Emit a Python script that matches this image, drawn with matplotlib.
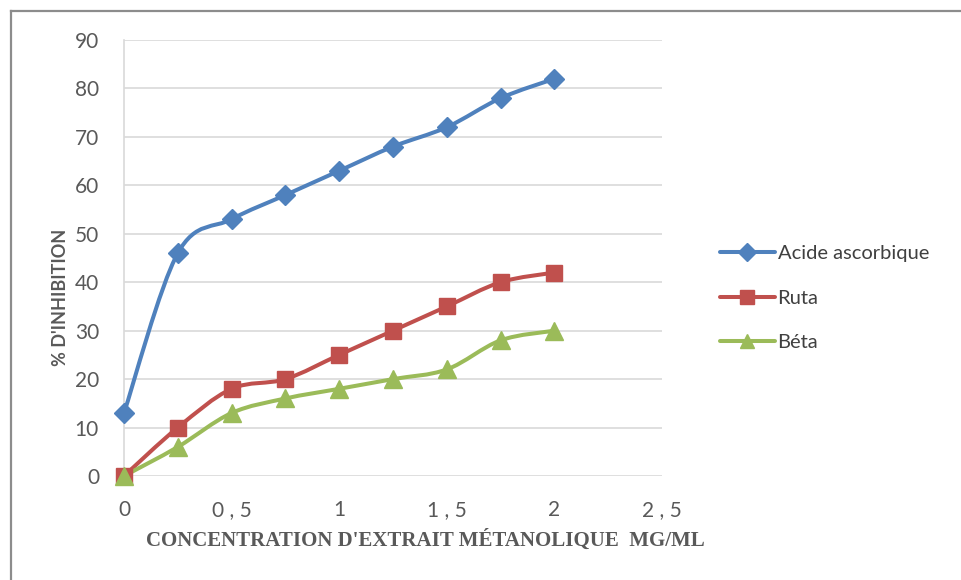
import numpy as np
import matplotlib
matplotlib.use("Agg")
import matplotlib.pyplot as plt
from matplotlib.path import Path
from matplotlib.patches import PathPatch
from matplotlib.lines import Line2D

# concentrations (mg/ml) and % inhibition
conc = [0, 0.25, 0.5, 0.75, 1, 1.25, 1.5, 1.75, 2]
acide = [13, 46, 53, 58, 63, 68, 72, 78, 82]
ruta = [0, 10, 18, 20, 25, 30, 35, 40, 42]
beta = [0, 6, 13, 16, 18, 20, 22, 28, 30]

x_ticks = [0, 0.5, 1, 1.5, 2, 2.5]
x_ticklabels = ["0", "0 , 5", "1", "1 , 5", "2", "2 , 5"]
y_ticks = [0, 10, 20, 30, 40, 50, 60, 70, 80, 90]

series = [
    ("Acide ascorbique", acide, "#4F81BD", "D", 10.5),
    ("Ruta", ruta, "#C0504D", "s", 11.5),
    ("Béta", beta, "#9BBB59", "^", 12.5),
]


def smooth_path(xs, ys):
    # cardinal (Catmull-Rom) bezier through the points, like a smoothed line
    pts = np.column_stack([xs, ys]).astype(float)
    n = len(pts)
    verts = [pts[0]]
    codes = [Path.MOVETO]
    for i in range(n - 1):
        p0 = pts[max(i - 1, 0)]
        p1 = pts[i]
        p2 = pts[i + 1]
        p3 = pts[min(i + 2, n - 1)]
        c1 = p1 + (p2 - p0) / 6.0
        c2 = p2 - (p3 - p1) / 6.0
        verts += [c1, c2, p2]
        codes += [Path.CURVE4] * 3
    return Path(verts, codes)


fig = plt.figure(figsize=(9.61, 5.80), dpi=100)
ax = fig.add_axes([124 / 961, 1 - 476 / 580, 538 / 961, 436 / 580])

ax.set_xlim(0, 2.5)
ax.set_ylim(0, 90)
ax.set_yticks(y_ticks)
ax.set_xticks(x_ticks)
ax.set_xticklabels(x_ticklabels)
ax.tick_params(length=0, labelsize=15, labelcolor="#595959")
ax.tick_params(axis="y", pad=18)
ax.tick_params(axis="x", pad=17)
for lab in ax.get_xticklabels() + ax.get_yticklabels():
    lab.set_family("Lato")

ax.yaxis.grid(True, color="#D9D9D9", linewidth=1.2)
ax.set_axisbelow(True)
for s in ["top", "right", "bottom"]:
    ax.spines[s].set_visible(False)
ax.spines["left"].set_color("#D9D9D9")
ax.spines["left"].set_linewidth(1.2)

handles = []
for name, vals, col, mk, ms in series:
    patch = PathPatch(smooth_path(conc, vals), facecolor="none", edgecolor=col,
                      linewidth=2.9, capstyle="round", joinstyle="round",
                      clip_on=False, zorder=3)
    ax.add_patch(patch)
    ax.plot(conc, vals, linestyle="none", marker=mk, markersize=ms,
            color=col, clip_on=False, zorder=4)
    handles.append(Line2D([], [], color=col, linewidth=2.9, marker=mk,
                          markersize=ms * 0.85, solid_capstyle="round",
                          label=name))

leg = fig.legend(handles=handles, loc="center left",
                 bbox_to_anchor=(702 / 961, 1 - 298 / 580), frameon=False,
                 prop={"family": "Lato", "size": 14.5}, handlelength=2.7,
                 handletextpad=0.15, labelspacing=1.35)
for t in leg.get_texts():
    t.set_color("#404040")

fig.text(425 / 961, 1 - 540 / 580,
         "CONCENTRATION D'EXTRAIT MÉTANOLIQUE  MG/ML",
         ha="center", va="center", fontsize=15, fontweight="bold",
         family="Liberation Serif", color="#595959")
fig.text(60 / 961, 1 - 297 / 580, "% D'INHIBITION", rotation=90,
         ha="center", va="center", fontsize=13, fontweight="bold",
         family="Lato", color="#595959")

# outer frame (left and top edges only)
fig.add_artist(Line2D([11 / 961, 11 / 961], [0, 1 - 11 / 580],
                      transform=fig.transFigure, color="#8C8C8C", linewidth=1.6))
fig.add_artist(Line2D([11 / 961, 1], [1 - 11 / 580, 1 - 11 / 580],
                      transform=fig.transFigure, color="#8C8C8C", linewidth=1.6))

fig.savefig("out.png", dpi=100)
